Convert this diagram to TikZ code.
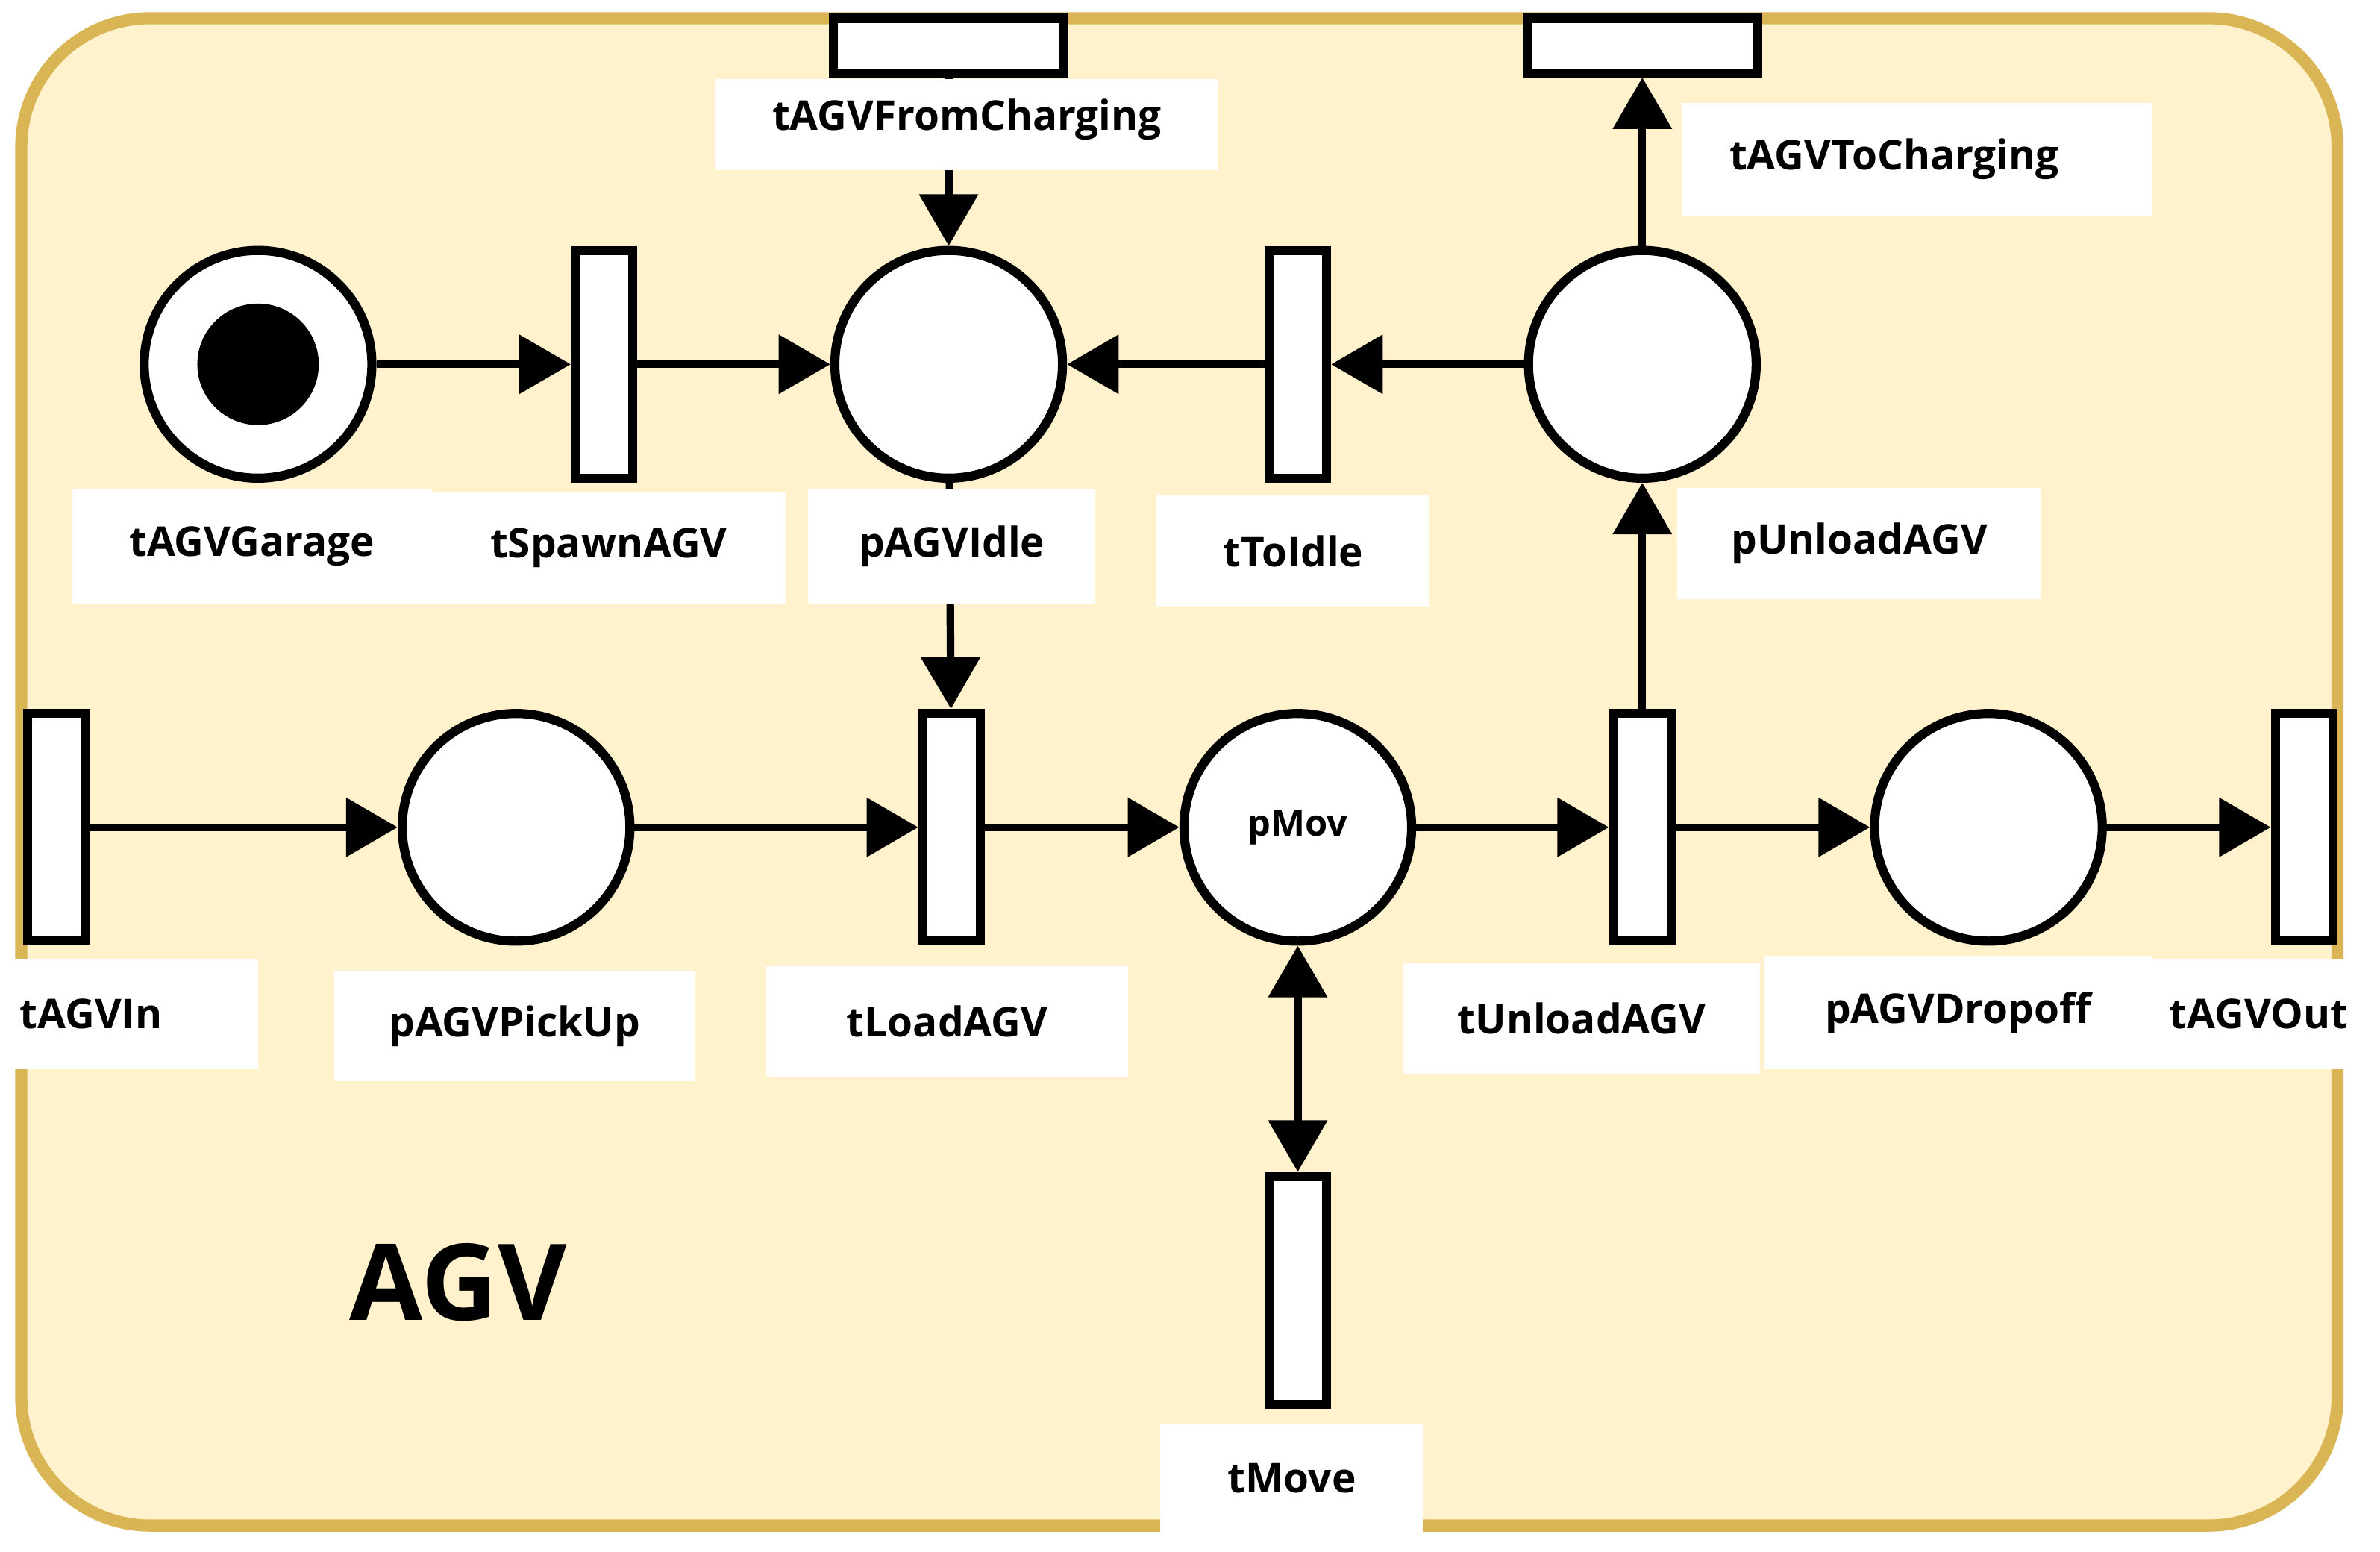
\documentclass[tikz,border=0pt]{standalone}
\usepackage{fontspec}
\setmainfont{Open Sans}
\usetikzlibrary{arrows.meta}
\definecolor{bg}{HTML}{FFF2CC}
\definecolor{bd}{HTML}{D9B555}
\begin{document}
\begin{tikzpicture}[x=1pt,y=-1pt,
  pl/.style={circle,draw,line width=6pt,fill=white,minimum size=150pt,inner sep=0pt},
  tv/.style={rectangle,draw,line width=6pt,fill=white,minimum width=38pt,minimum height=150pt,inner sep=0pt},
  th/.style={rectangle,draw,line width=6pt,fill=white,minimum width=152pt,minimum height=36pt,inner sep=0pt},
  lb/.style={rectangle,fill=white,inner sep=0pt,font=\bfseries\fontsize{27}{30}\selectfont},
  ar/.style={line width=5pt,-{Triangle[length=34pt,width=38pt]}},
  ar2/.style={line width=5pt,{Triangle[length=34pt,width=38pt]}-{Triangle[length=34pt,width=38pt]}}]
\useasboundingbox (0,0) rectangle (1568,1022);
\draw[bd,line width=8pt,fill=bg,rounded corners=85pt] (14,12) rectangle (1540,1005);
% places
\node[pl] (garage) at (170,240) {};
\fill (170,240) circle (40);
\node[pl] (idle) at (625,240) {};
\node[pl] (unload) at (1082,240) {};
\node[pl] (pick) at (340,545) {};
\node[pl,font=\bfseries\fontsize{24}{28}\selectfont] (mov) at (855,545) {pMov};
\node[pl] (drop) at (1310,545) {};
% transitions
\node[tv] (spawn) at (398,240) {};
\node[tv] (toidle) at (855,240) {};
\node[tv] (in) at (37,545) {};
\node[tv] (load) at (627,545) {};
\node[tv] (tunload) at (1082,545) {};
\node[tv] (out) at (1518,545) {};
\node[tv] (move) at (855,850) {};
\node[th] (fromch) at (625,30) {};
\node[th] (toch) at (1082,30) {};
% arcs
\draw[ar] (garage) -- (spawn);
\draw[ar] (spawn) -- (idle);
\draw[ar] (toidle) -- (idle);
\draw[ar] (unload) -- (toidle);
\draw[ar] (unload) -- (toch);
\draw[ar] (fromch) -- (idle);
\draw[ar] (idle) -- (load);
\draw[ar] (in) -- (pick);
\draw[ar] (pick) -- (load);
\draw[ar] (load) -- (mov);
\draw[ar] (mov) -- (tunload);
\draw[ar] (tunload) -- (unload);
\draw[ar] (tunload) -- (drop);
\draw[ar] (drop) -- (out);
\draw[ar2] (mov) -- (move);
% labels
\node[lb,minimum width=331pt,minimum height=60pt] (lfromch) at (637,82) {\raisebox{-4pt}[0pt][0pt]{tAGVFromCharging}};
\node[lb,minimum width=310pt,minimum height=74pt] (ltoch) at (1263,105) {\hspace*{-30pt}tAGVToCharging};
\node[lb,minimum width=237pt,minimum height=75pt] (lgar) at (166,360) {tAGVGarage};
\node[lb,minimum width=233pt,minimum height=73pt] (lspawn) at (401,361) {tSpawnAGV};
\node[lb,minimum width=189pt,minimum height=75pt] (lidle) at (627,360) {pAGVIdle};
\node[lb,minimum width=180pt,minimum height=73pt] (ltoidle) at (852,363) {tToIdle};
\node[lb,minimum width=240pt,minimum height=73pt] (lunl) at (1225,358) {pUnloadAGV};
\node[lb,minimum width=160pt,minimum height=73pt] (lin) at (90,668) {\hspace*{-60pt}tAGVIn};
\node[lb,minimum width=238pt,minimum height=72pt] (lpick) at (339,676) {pAGVPickUp};
\node[lb,minimum width=238pt,minimum height=73pt] (lload) at (624,673) {tLoadAGV};
\node[lb,minimum width=235pt,minimum height=73pt] (ltun) at (1042,671) {tUnloadAGV};
\node[lb,minimum width=255pt,minimum height=75pt] (ldrop) at (1290,667) {pAGVDropoff};
\node[lb,minimum width=150pt,minimum height=73pt] (lout) at (1488,668) {tAGVOut};
\node[lb,minimum width=173pt,minimum height=72pt] (lmove) at (851,974) {tMove};
\node[font=\bfseries\fontsize{70}{80}\selectfont] (agv) at (302,845) {AGV};
\end{tikzpicture}
\end{document}
